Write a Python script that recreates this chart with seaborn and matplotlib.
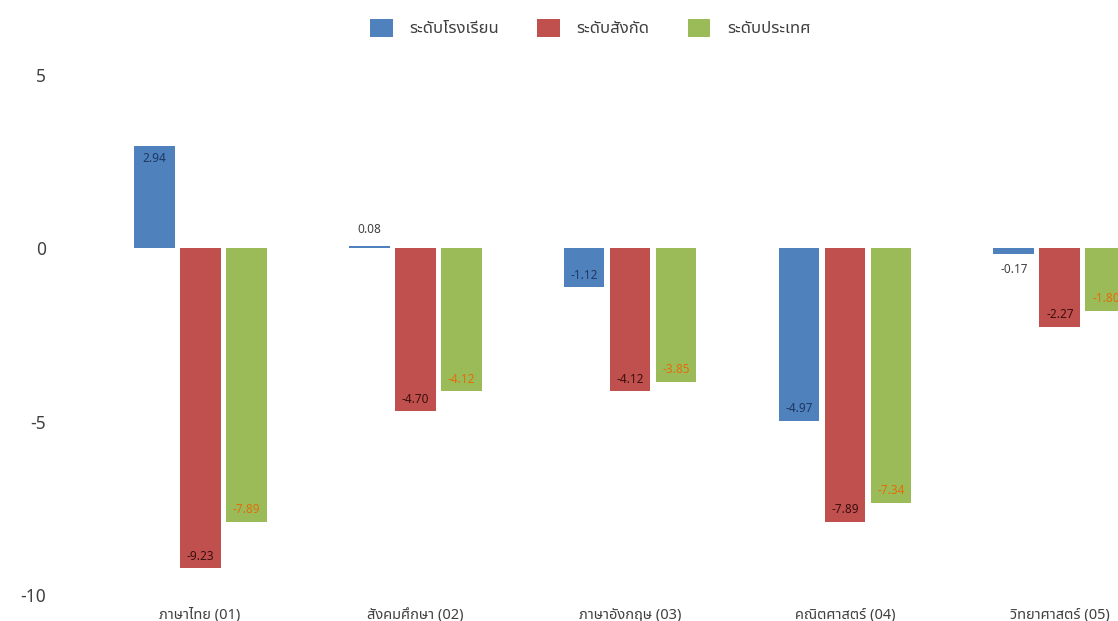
import pandas as pd
import matplotlib
matplotlib.use('Agg')
import matplotlib.pyplot as plt
import seaborn as sns

# Data
subjects = ['ภาษาไทย (01)', 'สังคมศึกษา (02)', 'ภาษาอังกฤษ (03)', 'คณิตศาสตร์ (04)', 'วิทยาศาสตร์ (05)']
levels = ['ระดับโรงเรียน', 'ระดับสังกัด', 'ระดับประเทศ']
school = [2.94, 0.08, -1.12, -4.97, -0.17]
affiliation = [-9.23, -4.70, -4.12, -7.89, -2.27]
country = [-7.89, -4.12, -3.85, -7.34, -1.80]

colors = ['#4F81BD', '#C0504D', '#9BBB59']
label_colors = ['#1F3763', '#3B0F0E', '#E46C0A']

df = pd.DataFrame({
    'subject': subjects * 3,
    'level': [levels[0]] * 5 + [levels[1]] * 5 + [levels[2]] * 5,
    'value': school + affiliation + country,
})

sns.set_style('white')
plt.rcParams['font.family'] = ['Noto Sans Thai', 'IBM Plex Sans Thai', 'Sarabun', 'DejaVu Sans']

fig = plt.figure(figsize=(11.18, 6.21), dpi=100)
ax = fig.add_axes([70 / 1118, 26 / 621, 1 - 70 / 1118, (595 - 75) / 621])

sns.barplot(data=df, x='subject', y='value', hue='level', palette=colors,
            width=0.642, gap=0.11, ax=ax, saturation=1, edgecolor='none')

ax.set_xlim(-0.605, 4.27)
ax.set_ylim(-10, 5)
ax.set_yticks([5, 0, -5, -10])
ax.set_yticklabels(['5', '0', '-5', '-10'])
ax.tick_params(axis='y', labelsize=12.5, labelcolor='#404040', length=0, pad=17)
ax.tick_params(axis='x', labelsize=10.5, labelcolor='#404040', length=0, pad=9)
ax.set_xlabel('')
ax.set_ylabel('')
sns.despine(ax=ax, left=True, bottom=True)

# value labels
for cont, lc in zip(ax.containers, label_colors):
    for bar in cont:
        v = bar.get_height()
        x = bar.get_x() + bar.get_width() / 2
        if abs(v) < 0.5:
            y = v + (0.45 if v >= 0 else -0.45)
            ax.text(x, y, f'{v:.2f}', ha='center', va='center', fontsize=8.5, color='#404040')
        else:
            y = v - 0.35 if v > 0 else v + 0.35
            ax.text(x, y, f'{v:.2f}', ha='center', va='center', fontsize=8.5, color=lc)

leg = ax.legend(loc='center', bbox_to_anchor=(0.5 - 70 / 2 / (1118 - 70) + 0.03, 1 + 47 / 520),
                ncol=3, frameon=False, fontsize=12, handlelength=1.35, handleheight=1.35,
                columnspacing=2.3, handletextpad=1.0)
for t in leg.get_texts():
    t.set_color('#404040')

fig.savefig('out.png', dpi=100)
